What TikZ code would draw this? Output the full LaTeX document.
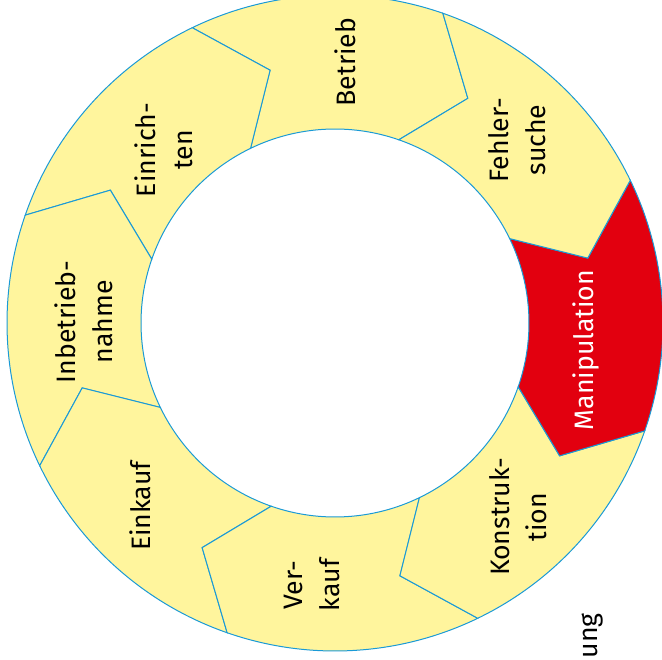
\documentclass[tikz,border=0pt]{standalone}
\usepackage{fontspec}
\setmainfont{Fira Sans}
\usepackage{tikz}
\usetikzlibrary{positioning}
\definecolor{ringYellow}{RGB}{255,245,157}
\definecolor{ringRed}{RGB}{226,0,15}
\definecolor{ringBlue}{RGB}{26,154,214}
\tikzstyle{segY} = [fill=ringYellow, draw=ringBlue, line width=0.75pt, line join=miter]
\tikzstyle{segR} = [segY, fill=ringRed]
\tikzstyle{lblNode} = [rotate=90, align=center, inner sep=0pt, font=\fontsize{20}{27.5}\selectfont, text=black]
\tikzstyle{lblNodeW} = [lblNode, text=white]
\begin{document}
\begin{tikzpicture}[x=0.75pt, y=0.75pt]
        \clip (-335,-337) rectangle (327,323);
        % ring segments, chevron tip points clockwise
        \foreach \a/\s in {70.8/segY, 115.8/segY, 160.8/segY, 205.8/segY, 250.8/segY, 295.8/segY, 340.8/segR, 25.8/segY} {
            \pgfmathsetmacro{\b}{\a+45}
            \draw [\s] (\b:328) arc[start angle=\b, end angle=\a, radius=328]
                -- (\a-11.4:261) -- (\a:194) arc[start angle=\a, end angle=\b, radius=194]
                -- (\b-11.4:261) -- cycle;
        }

        \node (betrieb) [lblNode] at (10,261) {Betrieb};
        \node (fehler) [lblNode] at (182,183) {Fehler-\\suche};
        \node (manip) [lblNodeW] at (251,-27) {Manipulation};
        \node (konstr) [lblNode] at (183,-194) {Konstruk-\\tion};
        \node (verkauf) [lblNode] at (-23,-262) {Ver-\\kauf};
        \node (einkauf) [lblNode] at (-195,-183) {Einkauf};
        \node (inbetr) [lblNode] at (-251,1) {Inbetrieb-\\nahme};
        \node (einricht) [lblNode] at (-171,173) {Einrich-\\ten};
        \node (ung) [lblNode, anchor=east] at (258,-290) {ung};
    \end{tikzpicture}
\end{document}
